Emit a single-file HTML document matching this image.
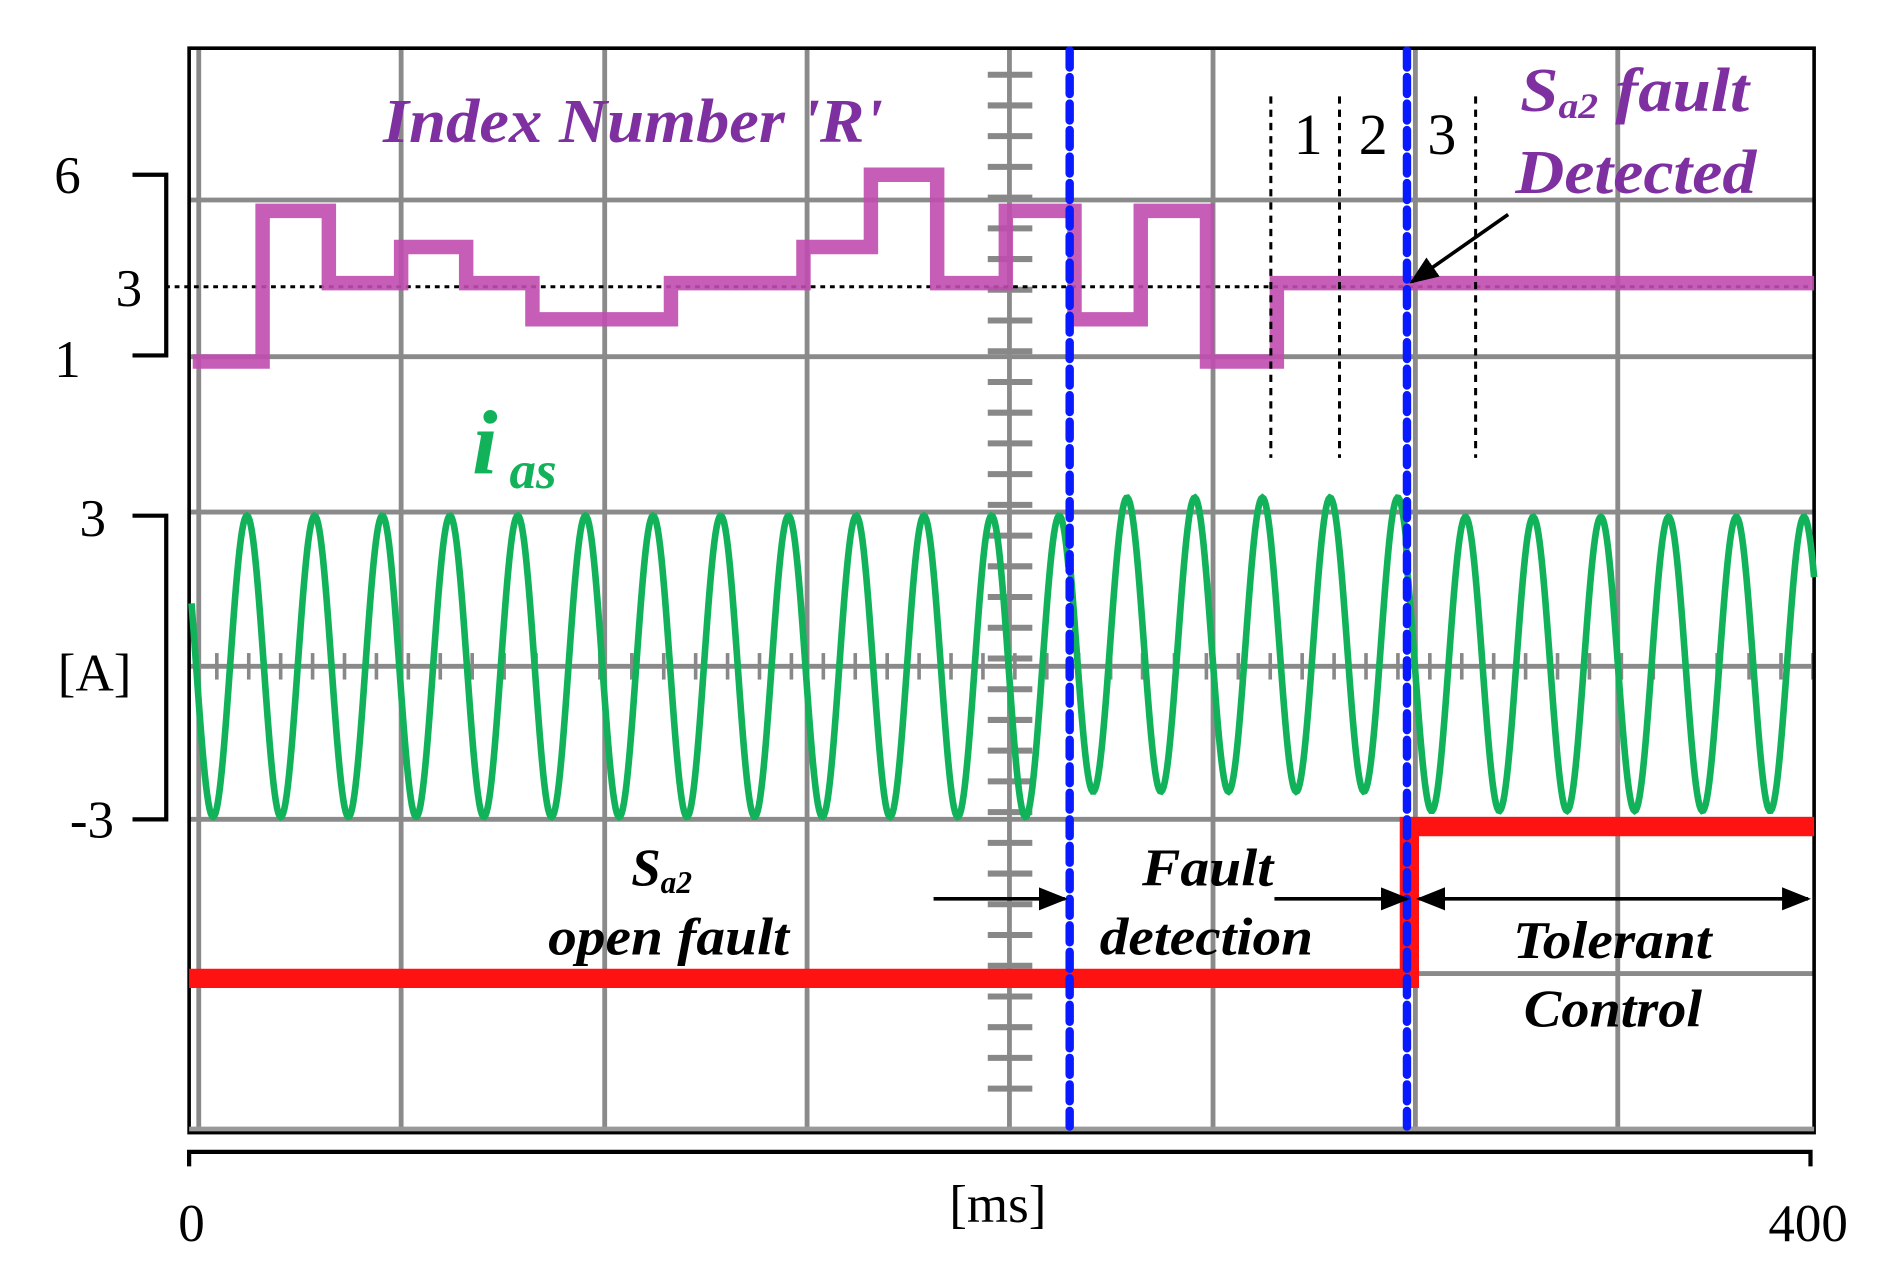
<!DOCTYPE html>
<html><head><meta charset="utf-8"><style>
html,body{margin:0;padding:0;background:#fff;width:1890px;height:1276px;overflow:hidden}
svg{display:block}
.t{font-family:"Liberation Serif",serif}
.bi{font-family:"Liberation Serif",serif;font-weight:bold;font-style:italic}
</style></head><body>
<svg id="s" width="1890" height="1276" viewBox="0 0 1569 1059" preserveAspectRatio="none" xmlns="http://www.w3.org/2000/svg">
<defs>
<marker id="ah" viewBox="0 0 10 10" refX="9" refY="5" markerWidth="8" markerHeight="8" orient="auto-start-reverse"><path d="M0,1 L10,5 L0,9 z" fill="#000"/></marker>
</defs>
<g id="grid" stroke="#8a8a8a" stroke-width="4"></g>
<g id="ticks" stroke="#888" stroke-width="4"></g>
<rect x="157" y="40" width="1349" height="900" fill="none" stroke="#000" stroke-width="3"/>
<line x1="157" y1="937" x2="1506" y2="937" stroke="#999" stroke-width="4"/>
<line x1="137" y1="238" x2="1506" y2="238" stroke="#000" stroke-width="2.5" stroke-dasharray="4,4"/>
<path id="idx" fill="none" stroke="#c04cb0" stroke-width="12" opacity="0.9"></path>
<path id="sine" fill="none" stroke="#12b25a" stroke-width="5.5"></path>
<path d="M157,812 H1170 V686 H1506" fill="none" stroke="#ff1212" stroke-width="16"/>
<g stroke="#000" stroke-width="2.5" stroke-dasharray="6,5">
<line x1="1055" y1="80" x2="1055" y2="380"/>
<line x1="1112" y1="80" x2="1112" y2="380"/>
<line x1="1225" y1="80" x2="1225" y2="380"/>
</g>
<g stroke="#0a1aff" stroke-width="7" stroke-dasharray="14,8" stroke-linecap="round">
<line x1="888" y1="42" x2="888" y2="935"/>
<line x1="1168" y1="42" x2="1168" y2="935"/>
</g>
<g stroke="#000" stroke-width="3.5" fill="none">
<path d="M110,145 H138 V295 H110"/>
<path d="M110,428 H138 V680 H110"/>
<path d="M157,968 V956 H1503 V968"/>
</g>
<g class="t" font-size="44" fill="#000">
<text x="45" y="160">6</text>
<text x="96" y="254">3</text>
<text x="45" y="313">1</text>
<text x="66" y="445">3</text>
<text x="48" y="573">[A]</text>
<text x="58" y="695">-3</text>
<text x="148" y="1030">0</text>
<text x="788" y="1014">[ms]</text>
<text x="1468" y="1030">400</text>
<text x="1074" y="128" font-size="48">1</text>
<text x="1128" y="128" font-size="48">2</text>
<text x="1185" y="128" font-size="48">3</text>
</g>
<g class="bi" fill="#7e2fa0">
<text x="318" y="118" font-size="52" textLength="415" lengthAdjust="spacingAndGlyphs">Index Number 'R'</text>
<text x="1262" y="92" font-size="52" textLength="190" lengthAdjust="spacingAndGlyphs">S<tspan font-size="30" dy="6">a2</tspan><tspan dy="-6"> fault</tspan></text>
<text x="1258" y="160" font-size="52" textLength="200" lengthAdjust="spacingAndGlyphs">Detected</text>
</g>
<g class="bi" fill="#12b25a">
<text x="392" y="393" font-size="76">i</text>
<text x="423" y="405" font-size="44">as</text>
</g>
<g class="bi" fill="#000" font-size="44">
<text x="524" y="735">S<tspan font-size="26" dy="6">a2</tspan></text>
<text x="455" y="792" textLength="200" lengthAdjust="spacingAndGlyphs">open fault</text>
<text x="948" y="735" textLength="109" lengthAdjust="spacingAndGlyphs">Fault</text>
<text x="913" y="792" textLength="177" lengthAdjust="spacingAndGlyphs">detection</text>
<text x="1256" y="795" textLength="165" lengthAdjust="spacingAndGlyphs">Tolerant</text>
<text x="1265" y="852" textLength="148" lengthAdjust="spacingAndGlyphs">Control</text>
</g>
<g stroke="#000" stroke-width="3" fill="none">
<line x1="775" y1="746" x2="884" y2="746" marker-end="url(#ah)"/>
<line x1="1058" y1="746" x2="1168" y2="746" marker-end="url(#ah)"/>
<line x1="1178" y1="746" x2="1501" y2="746" marker-start="url(#ah)" marker-end="url(#ah)"/>
<line x1="1252" y1="178" x2="1172" y2="234" marker-end="url(#ah)"/>
</g>
</svg>
<script>
var NS="http://www.w3.org/2000/svg";
function ln(g,x1,y1,x2,y2,sw){var l=document.createElementNS(NS,"line");l.setAttribute("x1",x1);l.setAttribute("y1",y1);l.setAttribute("x2",x2);l.setAttribute("y2",y2);if(sw)l.setAttribute("stroke-width",sw);g.appendChild(l);}
var g=document.getElementById("grid");
[165,333,502,670,838,1007,1175,1343].forEach(function(x){ln(g,x,40,x,938);});
[166,296,425,553,680,808].forEach(function(y){ln(g,157,y,1506,y);});
var t=document.getElementById("ticks");
for(var y=62;y<=915;y+=25.5){ln(t,820,y,857,y,5);}
for(var x=180;x<1506;x+=26.5){ln(t,x,542,x,564,3);}
var lv=[[160,1],[218,5],[273,3],[333,4],[387,3],[442,2],[557,3],[667,4],[723,6],[778,3],[835,5],[892,2],[947,5],[1002,1],[1060,3]];
function Y(L){return 295-(L-1)*30+(L==1?5:0);}
var d="M"+lv[0][0]+","+Y(lv[0][1]);
for(var i=1;i<lv.length;i++){d+=" H"+lv[i][0]+" V"+Y(lv[i][1]);}
d+=" H1506";
document.getElementById("idx").setAttribute("d",d);
var s="";
for(var x=159;x<=1506;x+=1){var c,a;
 if(x<888){c=553;a=125;}else if(x<1168){c=535;a=122;}else{c=551;a=122;}
 var v=c-a*Math.cos(2*Math.PI*(x-205)/56.2);
 s+=(x==159?"M":"L")+x+","+v.toFixed(1)+" ";}
document.getElementById("sine").setAttribute("d",s);
</script>
</body></html>
